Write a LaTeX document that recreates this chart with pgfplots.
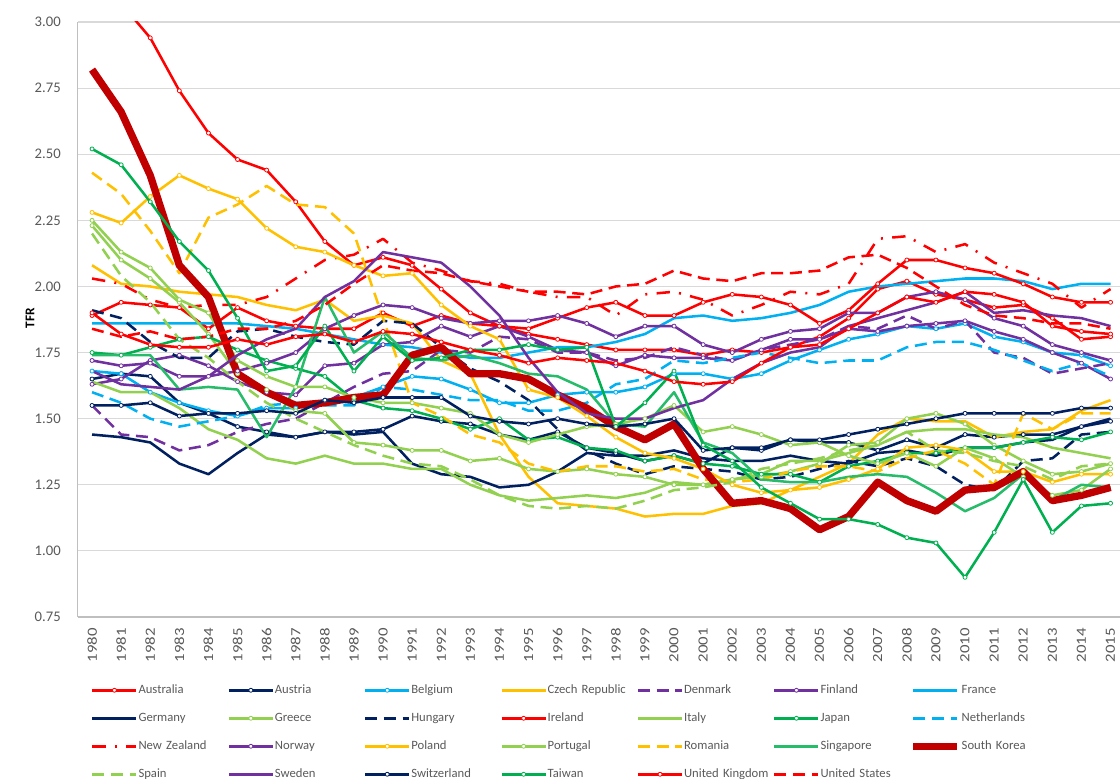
\documentclass[border=0pt]{standalone}
\usepackage{fontspec}
\setmainfont{Carlito}
\usepackage{pgfplots}
\usepackage{pgfplotstable}
\pgfplotsset{compat=1.18}
\definecolor{cRed}{HTML}{FF0000}
\definecolor{cNavy}{HTML}{002060}
\definecolor{cBlue}{HTML}{00B0F0}
\definecolor{cGold}{HTML}{FFC000}
\definecolor{cPurple}{HTML}{7030A0}
\definecolor{cLGreen}{HTML}{92D050}
\definecolor{cGreen}{HTML}{00B050}
\definecolor{cDRed}{HTML}{C00000}
\definecolor{cGrid}{HTML}{D9D9D9}
\definecolor{cAxis}{HTML}{BFBFBF}
\definecolor{cText}{HTML}{595959}

\pgfplotstableread{
c 1980 1981 1982 1983 1984 1985 1986 1987 1988 1989 1990 1991 1992 1993 1994 1995 1996 1997 1998 1999 2000 2001 2002 2003 2004 2005 2006 2007 2008 2009 2010 2011 2012 2013 2014 2015
AUS 1.89 1.94 1.93 1.92 1.84 1.92 1.87 1.85 1.84 1.84 1.90 1.85 1.89 1.86 1.85 1.82 1.80 1.78 1.76 1.76 1.76 1.74 1.76 1.75 1.77 1.81 1.88 1.99 2.02 1.97 1.95 1.92 1.93 1.88 1.80 1.81
AUT 1.65 1.67 1.66 1.56 1.52 1.47 1.45 1.43 1.45 1.45 1.46 1.51 1.49 1.48 1.44 1.42 1.45 1.39 1.37 1.34 1.36 1.33 1.39 1.38 1.42 1.41 1.41 1.38 1.42 1.39 1.44 1.43 1.44 1.44 1.47 1.49
BEL 1.68 1.67 1.60 1.56 1.53 1.51 1.54 1.54 1.57 1.58 1.62 1.66 1.65 1.61 1.56 1.56 1.59 1.60 1.60 1.62 1.67 1.67 1.65 1.67 1.72 1.76 1.80 1.82 1.85 1.84 1.86 1.81 1.79 1.75 1.74 1.70
CZE 2.08 2.01 2.00 1.98 1.97 1.96 1.93 1.91 1.95 1.87 1.89 1.86 1.72 1.67 1.44 1.28 1.18 1.17 1.16 1.13 1.14 1.14 1.17 1.18 1.23 1.28 1.33 1.44 1.50 1.49 1.49 1.43 1.45 1.46 1.53 1.57
DNK 1.55 1.44 1.43 1.38 1.40 1.45 1.48 1.50 1.56 1.62 1.67 1.68 1.76 1.75 1.81 1.80 1.75 1.75 1.72 1.73 1.77 1.74 1.72 1.76 1.78 1.80 1.85 1.84 1.89 1.84 1.87 1.75 1.73 1.67 1.69 1.71
FIN 1.63 1.65 1.72 1.74 1.70 1.64 1.60 1.59 1.70 1.71 1.78 1.79 1.85 1.81 1.85 1.81 1.76 1.75 1.70 1.74 1.73 1.73 1.72 1.76 1.80 1.80 1.84 1.83 1.85 1.86 1.87 1.83 1.80 1.75 1.71 1.65
FRA 1.86 1.86 1.86 1.86 1.86 1.86 1.85 1.84 1.82 1.80 1.78 1.77 1.75 1.73 1.73 1.75 1.77 1.77 1.79 1.82 1.88 1.89 1.87 1.88 1.90 1.93 1.98 2.00 2.01 2.02 2.03 2.03 2.02 1.99 2.01 2.01
DEU 1.44 1.43 1.41 1.33 1.29 1.37 1.44 1.43 1.45 1.44 1.45 1.33 1.29 1.28 1.24 1.25 1.30 1.37 1.36 1.36 1.38 1.35 1.34 1.34 1.36 1.34 1.33 1.37 1.38 1.36 1.39 1.39 1.41 1.42 1.47 1.50
GRC 2.23 2.10 2.03 1.94 1.82 1.67 1.61 1.53 1.52 1.41 1.40 1.38 1.38 1.34 1.35 1.31 1.30 1.31 1.29 1.28 1.25 1.25 1.27 1.28 1.30 1.33 1.40 1.41 1.50 1.52 1.48 1.40 1.34 1.29 1.30 1.33
HUN 1.91 1.88 1.79 1.73 1.73 1.83 1.84 1.81 1.79 1.78 1.87 1.86 1.77 1.69 1.64 1.57 1.46 1.38 1.33 1.29 1.32 1.31 1.30 1.27 1.28 1.31 1.34 1.32 1.35 1.32 1.25 1.23 1.34 1.35 1.44 1.45
IRL 3.23 3.07 2.94 2.74 2.58 2.48 2.44 2.32 2.17 2.08 2.11 2.08 1.99 1.90 1.85 1.84 1.88 1.92 1.94 1.89 1.89 1.94 1.97 1.96 1.93 1.86 1.91 2.01 2.10 2.10 2.07 2.05 2.01 1.96 1.94 1.94
ITA 1.64 1.60 1.60 1.54 1.46 1.42 1.35 1.33 1.36 1.33 1.33 1.31 1.31 1.25 1.21 1.19 1.20 1.21 1.20 1.22 1.26 1.25 1.27 1.29 1.34 1.34 1.37 1.40 1.45 1.46 1.46 1.44 1.43 1.39 1.37 1.35
JPN 1.75 1.74 1.77 1.80 1.81 1.76 1.72 1.69 1.66 1.57 1.54 1.53 1.50 1.46 1.50 1.42 1.43 1.39 1.38 1.34 1.36 1.33 1.32 1.29 1.29 1.26 1.32 1.34 1.37 1.37 1.39 1.39 1.41 1.43 1.42 1.45
NLD 1.60 1.56 1.50 1.47 1.49 1.51 1.55 1.56 1.55 1.55 1.62 1.61 1.59 1.57 1.57 1.53 1.53 1.56 1.63 1.65 1.72 1.71 1.73 1.75 1.73 1.71 1.72 1.72 1.77 1.79 1.79 1.76 1.72 1.68 1.71 1.66
NZL 2.03 2.01 1.95 1.92 1.93 1.93 1.96 2.03 2.10 2.12 2.18 2.09 2.06 2.02 2.01 1.98 1.96 1.96 1.89 1.97 1.98 1.95 1.89 1.93 1.98 1.97 2.01 2.18 2.19 2.13 2.16 2.09 2.05 2.01 1.92 1.99
NOR 1.72 1.70 1.71 1.66 1.66 1.68 1.71 1.75 1.84 1.89 1.93 1.92 1.88 1.86 1.87 1.87 1.89 1.86 1.81 1.85 1.85 1.78 1.75 1.80 1.83 1.84 1.90 1.90 1.96 1.98 1.95 1.88 1.85 1.78 1.75 1.72
POL 2.28 2.24 2.34 2.42 2.37 2.33 2.22 2.15 2.13 2.08 2.04 2.05 1.93 1.85 1.80 1.61 1.58 1.51 1.43 1.37 1.35 1.31 1.25 1.22 1.23 1.24 1.27 1.31 1.39 1.40 1.38 1.30 1.30 1.26 1.29 1.29
PRT 2.25 2.13 2.07 1.95 1.90 1.72 1.66 1.62 1.62 1.58 1.56 1.56 1.54 1.52 1.44 1.41 1.44 1.47 1.48 1.50 1.55 1.45 1.47 1.44 1.40 1.41 1.36 1.33 1.37 1.32 1.39 1.35 1.28 1.21 1.23 1.31
ROU 2.43 2.35 2.21 2.05 2.26 2.31 2.38 2.31 2.30 2.20 1.88 1.56 1.51 1.44 1.41 1.33 1.30 1.32 1.32 1.30 1.31 1.27 1.26 1.27 1.30 1.32 1.32 1.30 1.35 1.38 1.33 1.25 1.52 1.46 1.52 1.52
SGP 1.74 1.74 1.74 1.61 1.62 1.61 1.43 1.62 1.96 1.75 1.83 1.73 1.72 1.74 1.71 1.67 1.66 1.61 1.48 1.47 1.60 1.41 1.37 1.27 1.26 1.26 1.28 1.29 1.28 1.22 1.15 1.20 1.29 1.19 1.25 1.24
KOR 2.82 2.66 2.42 2.08 1.96 1.67 1.60 1.55 1.56 1.58 1.59 1.74 1.77 1.67 1.67 1.65 1.59 1.54 1.47 1.42 1.48 1.31 1.18 1.19 1.16 1.08 1.13 1.26 1.19 1.15 1.23 1.24 1.30 1.19 1.21 1.24
ESP 2.20 2.04 1.94 1.80 1.73 1.64 1.56 1.50 1.45 1.40 1.36 1.33 1.32 1.27 1.21 1.17 1.16 1.17 1.16 1.19 1.23 1.24 1.26 1.31 1.33 1.35 1.38 1.40 1.45 1.38 1.37 1.34 1.32 1.27 1.32 1.33
SWE 1.68 1.63 1.62 1.61 1.66 1.74 1.80 1.84 1.96 2.02 2.13 2.11 2.09 2.00 1.89 1.73 1.60 1.52 1.50 1.50 1.54 1.57 1.65 1.71 1.75 1.77 1.85 1.88 1.91 1.94 1.98 1.90 1.91 1.89 1.88 1.85
CHE 1.55 1.55 1.56 1.51 1.52 1.52 1.53 1.52 1.57 1.56 1.58 1.58 1.58 1.51 1.49 1.48 1.50 1.48 1.47 1.48 1.50 1.38 1.39 1.39 1.42 1.42 1.44 1.46 1.48 1.50 1.52 1.52 1.52 1.52 1.54 1.54
TWN 2.52 2.46 2.32 2.17 2.06 1.88 1.68 1.70 1.85 1.68 1.81 1.72 1.73 1.76 1.76 1.78 1.76 1.77 1.47 1.56 1.68 1.40 1.34 1.24 1.18 1.12 1.12 1.10 1.05 1.03 0.90 1.07 1.27 1.07 1.17 1.18
GBR 1.90 1.82 1.78 1.77 1.77 1.80 1.78 1.81 1.82 1.79 1.83 1.82 1.79 1.76 1.74 1.71 1.73 1.72 1.71 1.68 1.64 1.63 1.64 1.71 1.77 1.78 1.84 1.90 1.96 1.94 1.98 1.97 1.94 1.85 1.83 1.82
USA 1.84 1.81 1.83 1.80 1.81 1.84 1.84 1.87 1.93 2.01 2.08 2.06 2.05 2.02 2.00 1.98 1.98 1.97 2.00 2.01 2.06 2.03 2.02 2.05 2.05 2.06 2.11 2.12 2.07 2.00 1.93 1.89 1.88 1.86 1.86 1.84
}\raw
\pgfplotstabletranspose[colnames from=c, input colnames to=yr]\data\raw

\pgfplotsset{
  ln/.style={line width=1.9pt, line join=round, no markers},
  mk/.style={line width=1.9pt, line join=round, mark=*, mark size=1.5pt,
    mark options={solid, fill=white, line width=0.6pt}},
  dsh/.style={dash pattern=on 9pt off 5pt},
}

\begin{document}
\begin{tikzpicture}
\useasboundingbox (0,0) rectangle (840pt,583.5pt);
\clip (0,0) rectangle (840pt,583.5pt);
\begin{axis}[
  at={(58.125pt,120.75pt)}, anchor=south west,
  scale only axis, width=785.7pt, height=446.25pt,
  xmin=1979.5, xmax=2015.5, ymin=0.75, ymax=3.0,
  axis lines*=left,
  axis line style={cAxis, line width=0.8pt},
  ymajorgrids, grid style={cGrid, line width=0.8pt},
  major tick length=0pt,
  xtick={1980,...,2015}, ytick={0.75,1.00,...,3.00},
  /pgf/number format/assume math mode=true,
  yticklabel={\pgfmathprintnumber[fixed, fixed zerofill, precision=2]{\tick}},
  xticklabel={\scalebox{1.2}[1]{\pgfmathprintnumber[fixed, precision=0, set thousands separator={}]{\tick}}},
  yticklabel style={font=\fontsize{11}{12}\selectfont, text=cText, anchor=east, inner xsep=12.4pt, inner ysep=0pt},
  xticklabel style={font=\fontsize{10.5}{11}\selectfont, text=cText, rotate=90, anchor=east, inner xsep=8.25pt, inner ysep=0pt},
  ylabel={\textbf{TFR}},
  ylabel style={font=\fontsize{10}{11}\selectfont, at={(axis description cs:-0.0453,0.5025)}, anchor=center},
  legend columns=7,
  legend cell align=left,
  legend style={draw=none, fill=none, inner sep=0pt,
    at={(axis description cs:0.0128,-0.1126)}, anchor=north west,
    font=\fontsize{9.5}{11}\selectfont, text=cText,
    nodes={text width=66.2pt, inner xsep=0.6pt, inner ysep=0pt, text height=7pt, text depth=2pt},
    row sep=12pt},
  legend image code/.code={\draw[mark repeat=2,mark phase=2] plot coordinates {(0pt,0pt) (16.5pt,0pt) (33pt,0pt)};},
]
\addplot[mk, cRed] table[x=yr, y=AUS]{\data}; \addlegendentry{Australia}
\addplot[mk, cNavy] table[x=yr, y=AUT]{\data}; \addlegendentry{Austria}
\addplot[mk, cBlue] table[x=yr, y=BEL]{\data}; \addlegendentry{Belgium}
\addplot[ln, cGold] table[x=yr, y=CZE]{\data}; \addlegendentry{Czech Republic}
\addplot[ln, dsh, cPurple] table[x=yr, y=DNK]{\data}; \addlegendentry{Denmark}
\addplot[mk, cPurple] table[x=yr, y=FIN]{\data}; \addlegendentry{Finland}
\addplot[ln, cBlue] table[x=yr, y=FRA]{\data}; \addlegendentry{France}
\addplot[ln, cNavy] table[x=yr, y=DEU]{\data}; \addlegendentry{Germany}
\addplot[mk, cLGreen] table[x=yr, y=GRC]{\data}; \addlegendentry{Greece}
\addplot[ln, dsh, cNavy] table[x=yr, y=HUN]{\data}; \addlegendentry{Hungary}
\addplot[mk, cRed] table[x=yr, y=IRL]{\data}; \addlegendentry{Ireland}
\addplot[ln, cLGreen] table[x=yr, y=ITA]{\data}; \addlegendentry{Italy}
\addplot[mk, cGreen] table[x=yr, y=JPN]{\data}; \addlegendentry{Japan}
\addplot[ln, dsh, cBlue] table[x=yr, y=NLD]{\data}; \addlegendentry{Netherlands}
\addplot[ln, cRed, dash pattern=on 10pt off 7pt on 1.5pt off 7pt] table[x=yr, y=NZL]{\data}; \addlegendentry{New Zealand}
\addplot[mk, cPurple] table[x=yr, y=NOR]{\data}; \addlegendentry{Norway}
\addplot[mk, cGold] table[x=yr, y=POL]{\data}; \addlegendentry{Poland}
\addplot[mk, cLGreen] table[x=yr, y=PRT]{\data}; \addlegendentry{Portugal}
\addplot[ln, dsh, cGold] table[x=yr, y=ROU]{\data}; \addlegendentry{Romania}
\addplot[ln, cGreen!85!white] table[x=yr, y=SGP]{\data}; \addlegendentry{Singapore}
\addplot[ln, cDRed, line width=5.5pt] table[x=yr, y=KOR]{\data}; \addlegendentry{South Korea}
\addplot[ln, dsh, cLGreen] table[x=yr, y=ESP]{\data}; \addlegendentry{Spain}
\addplot[ln, cPurple] table[x=yr, y=SWE]{\data}; \addlegendentry{Sweden}
\addplot[mk, cNavy] table[x=yr, y=CHE]{\data}; \addlegendentry{Switzerland}
\addplot[mk, cGreen] table[x=yr, y=TWN]{\data}; \addlegendentry{Taiwan}
\addplot[mk, cRed] table[x=yr, y=GBR]{\data}; \addlegendentry{United Kingdom}
\addplot[ln, dsh, cRed] table[x=yr, y=USA]{\data}; \addlegendentry{United States}
\end{axis}
\end{tikzpicture}
\end{document}
